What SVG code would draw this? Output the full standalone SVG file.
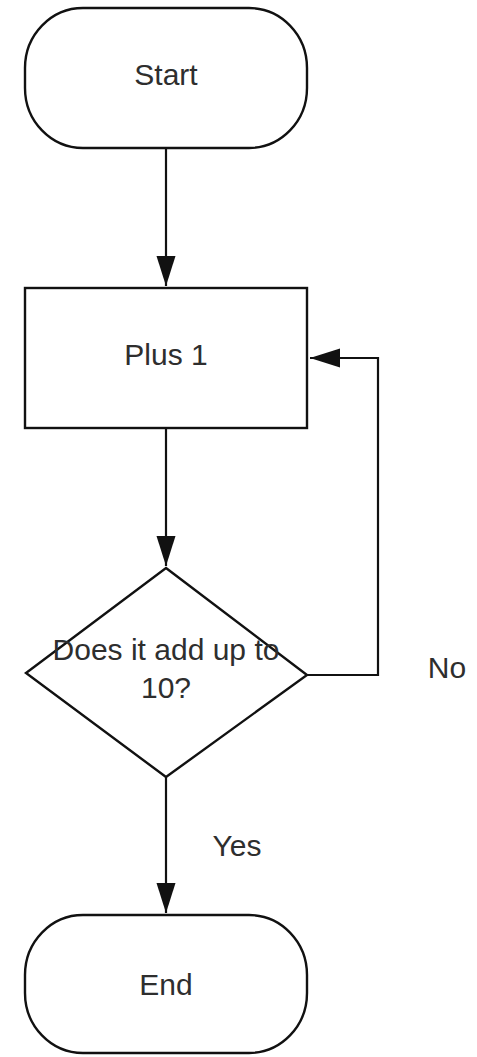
<svg xmlns="http://www.w3.org/2000/svg" width="477" height="1057" viewBox="0 0 477 1057">
<style>
.shape{fill:#ffffff;stroke:#111111;stroke-width:2.4}
.conn{fill:none;stroke:#111111;stroke-width:2.2}
.lbl{font-family:"Liberation Sans",Arial,sans-serif;font-size:30px;fill:#2e2e2e;text-anchor:middle}
</style>
<defs>
<marker id="arr" markerUnits="userSpaceOnUse" markerWidth="32" markerHeight="20" refX="30" refY="9.5" orient="auto">
<path d="M0,0 L30,9.5 L0,19 Z" fill="#111111"/>
</marker>
</defs>
<rect width="477" height="1057" fill="#ffffff"/>
<g id="connectors">
<path class="conn" d="M166,148 L166,286" marker-end="url(#arr)"/>
<path class="conn" d="M166,428 L166,566" marker-end="url(#arr)"/>
<path class="conn" d="M307,675 L378,675 L378,358 L310,358" marker-end="url(#arr)"/>
<path class="conn" d="M166,777 L166,913" marker-end="url(#arr)"/>
<text class="lbl" x="447" y="678">No</text>
<text class="lbl" x="237" y="856">Yes</text>
</g>
<g id="start">
<rect class="shape" x="25" y="8" width="282" height="140" rx="58" ry="60"/>
<text class="lbl" x="166" y="85">Start</text>
</g>
<g id="plus1">
<rect class="shape" x="25" y="288" width="282" height="140"/>
<text class="lbl" x="166" y="365">Plus 1</text>
</g>
<g id="decision">
<polygon class="shape" points="166,568 307,675 166,777 26,673"/>
<text class="lbl" x="166" y="660">Does it add up to</text>
<text class="lbl" x="166" y="698">10?</text>
</g>
<g id="end">
<rect class="shape" x="25" y="915" width="282" height="138" rx="58" ry="60"/>
<text class="lbl" x="166" y="995">End</text>
</g>
</svg>
